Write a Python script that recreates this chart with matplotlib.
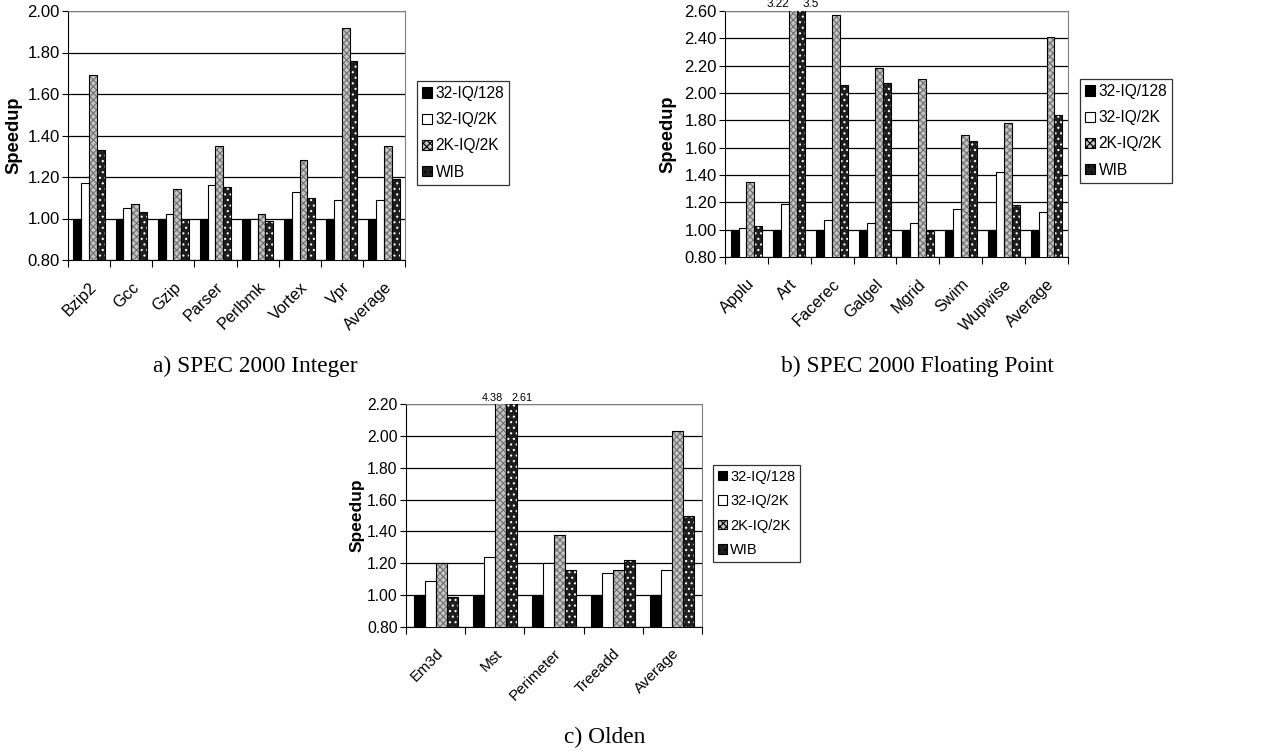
import numpy as np
import matplotlib
matplotlib.use("Agg")
import matplotlib.pyplot as plt
from matplotlib.patches import Patch

plt.rcParams["font.family"] = ["Liberation Sans", "DejaVu Sans"]
plt.rcParams["hatch.linewidth"] = 0.8

series = ["32-IQ/128", "32-IQ/2K", "2K-IQ/2K", "WIB"]

int_names = ["Bzip2", "Gcc", "Gzip", "Parser", "Perlbmk", "Vortex", "Vpr", "Average"]
int_iq128 = [1.00, 1.00, 1.00, 1.00, 1.00, 1.00, 1.00, 1.00]
int_iq2k = [1.17, 1.05, 1.02, 1.16, 1.00, 1.13, 1.09, 1.09]
int_2k2k = [1.69, 1.07, 1.14, 1.35, 1.02, 1.28, 1.92, 1.35]
int_wib = [1.33, 1.03, 1.00, 1.15, 0.99, 1.10, 1.76, 1.19]

fp_names = ["Applu", "Art", "Facerec", "Galgel", "Mgrid", "Swim", "Wupwise", "Average"]
fp_iq128 = [1.00, 1.00, 1.00, 1.00, 1.00, 1.00, 1.00, 1.00]
fp_iq2k = [1.01, 1.19, 1.07, 1.05, 1.05, 1.15, 1.42, 1.13]
fp_2k2k = [1.35, 3.22, 2.57, 2.18, 2.10, 1.69, 1.78, 2.41]
fp_wib = [1.03, 3.5, 2.06, 2.07, 0.99, 1.65, 1.18, 1.84]

old_names = ["Em3d", "Mst", "Perimeter", "Treeadd", "Average"]
old_iq128 = [1.00, 1.00, 1.00, 1.00, 1.00]
old_iq2k = [1.09, 1.24, 1.20, 1.14, 1.16]
old_2k2k = [1.20, 4.38, 1.38, 1.16, 2.03]
old_wib = [0.99, 2.61, 1.16, 1.22, 1.50]

# face colour, hatch, hatch colour
styles = [("black", None, None),
          ("white", None, None),
          ("#c4c4c4", "xxxxx", "#707070"),
          ("#1e1e1e", "...", "white")]

W, H = 1287, 751
fig = plt.figure(figsize=(W / 100, H / 100), dpi=100)


def px_axes(l, t, r, b):
    return fig.add_axes([l / W, 1 - b / H, (r - l) / W, (b - t) / H])


def fmt(v):
    s = "%.2f" % v
    return s[:-1] if s.endswith("0") and v > 3 else s


def panel(ax, names, data, ymax, fs, leg_box, ylab_x, caption, cap_xy, labels):
    n = len(names)
    x = np.arange(n)
    bw = 0.185
    ax.set_xlim(-0.5, n - 0.5)
    ax.set_ylim(0.8, ymax)
    for j, vals in enumerate(data):
        fc, hatch, hc = styles[j]
        pos = x + (j - 1.5) * bw
        ax.bar(pos, vals, bw, color=fc, edgecolor="none", zorder=3)
        if hatch:
            ax.bar(pos, vals, bw, fill=False, hatch=hatch, edgecolor=hc, lw=0, zorder=4)
        ax.bar(pos, vals, bw, fill=False, edgecolor="black", lw=0.8, zorder=5)
    yt = np.arange(0.8, ymax + 0.001, 0.2)
    ax.set_yticks(yt)
    ax.set_yticklabels(["%.2f" % v for v in yt], fontsize=fs)
    ax.yaxis.grid(True, color="black", lw=0.9)
    ax.set_axisbelow(True)
    ax.set_xticks(np.arange(n + 1) - 0.5)
    ax.set_xticklabels([])
    ax.set_xticks(x, minor=True)
    ax.set_xticklabels(names, minor=True, rotation=45, ha="right",
                       rotation_mode="anchor", fontsize=fs - 0.3)
    ax.tick_params(axis="x", which="major", length=5, direction="out")
    ax.tick_params(axis="x", which="minor", length=0, pad=14)
    ax.tick_params(axis="y", length=4, direction="out", pad=2)
    for s in ["top", "right"]:
        ax.spines[s].set_color("#808080")
    for s in ["left", "bottom"]:
        ax.spines[s].set_color("black")
    p = ax.get_position()
    fig.text(ylab_x / W, (p.y0 + p.y1) / 2, "Speedup", rotation=90,
             fontsize=fs + 1.2, fontweight="bold", ha="center", va="center")
    handles = [Patch(facecolor=styles[k][0], edgecolor="black",
                     hatch=styles[k][1], lw=0.8) for k in range(4)]
    l, t = leg_box
    leg = fig.legend(handles, series, loc="upper left",
                     bbox_to_anchor=(l / W, 1 - t / H), fontsize=fs - 0.8,
                     frameon=True, fancybox=False, edgecolor="black",
                     handlelength=0.62, handleheight=0.62, handletextpad=0.25,
                     labelspacing=0.72, borderpad=0.32, borderaxespad=0)
    leg.get_frame().set_linewidth(0.9)
    for (j, i), dx in labels:
        ax.annotate(fmt(data[j][i]), xy=(i + (j - 1.5) * bw, ymax),
                    xytext=(dx, 1), textcoords="offset points",
                    ha="center", va="bottom", fontsize=fs - 3.5,
                    annotation_clip=False)
    fig.text(cap_xy[0] / W, 1 - cap_xy[1] / H, caption, ha="center", va="center",
             fontsize=16.8, family=["Liberation Serif", "DejaVu Serif"])


ax_a = px_axes(68, 11, 405, 260)
panel(ax_a, int_names, [int_iq128, int_iq2k, int_2k2k, int_wib], 2.0, 12,
      (417, 81), 14, "a) SPEC 2000 Integer", (255, 366), [])

ax_b = px_axes(725, 11, 1068, 257)
panel(ax_b, fp_names, [fp_iq128, fp_iq2k, fp_2k2k, fp_wib], 2.6, 12,
      (1080, 79), 668, "b) SPEC 2000 Floating Point", (917, 366),
      [((2, 1), -11), ((3, 1), 7)])

ax_c = px_axes(406, 404, 702, 627)
panel(ax_c, old_names, [old_iq128, old_iq2k, old_2k2k, old_wib], 2.2, 11.3,
      (713, 465), 357, "c) Olden", (605, 737),
      [((2, 1), -6), ((3, 1), 8)])

fig.savefig("out.png", dpi=100, facecolor="white")
